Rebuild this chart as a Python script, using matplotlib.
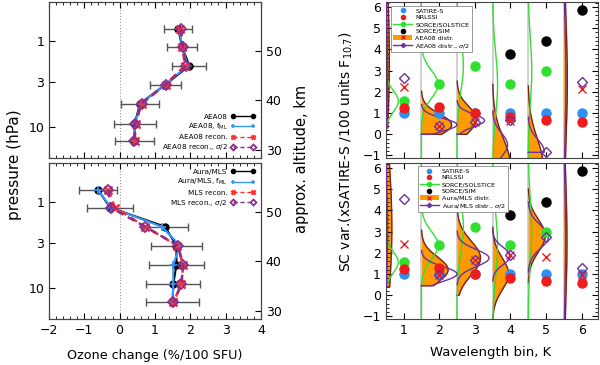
import numpy as np
import matplotlib
matplotlib.use('Agg')
import matplotlib.pyplot as plt
from matplotlib.ticker import MultipleLocator, NullLocator, FixedLocator
from matplotlib.lines import Line2D
from matplotlib.patches import Patch

plt.rcParams['font.family'] = 'DejaVu Sans'

# ---- left panels: ozone response profiles ----
pres = [0.73, 1.17, 1.94, 3.2, 5.3, 9.0, 14.5]  # hPa

aea08 = [1.66, 1.77, 1.97, 1.30, 0.58, 0.43, 0.42]
aea08_err = [0.40, 0.42, 0.48, 0.45, 0.53, 0.59, 0.54]
aea08_fml = [1.68, 1.78, 1.92, 1.30, 0.60, 0.44, 0.42]
aea08_rec = [1.72, 1.78, 1.85, 1.30, 0.62, 0.45, 0.43]
aea08_rec2 = [1.74, 1.79, 1.88, 1.31, 0.62, 0.44, 0.42]

mls = [-0.61, -0.27, 1.28, 1.61, 1.61, 1.52, 1.50]
mls_err = [0.54, 0.65, 0.66, 0.72, 0.77, 0.77, 0.76]
mls_fml = [-0.61, -0.25, 1.19, 1.71, 1.52, 1.52, 1.50]
mls_rec = [-0.32, -0.13, 0.72, 1.63, 1.80, 1.75, 1.52]
mls_rec2 = [-0.32, -0.25, 0.72, 1.65, 1.80, 1.75, 1.52]

# ---- right panels: solar cycle variability per wavelength bin ----
K = [1, 2, 3, 4, 5, 6]
satire = [1.0, 1.0, 1.0, 1.0, 1.0, 1.0]
nrlssi = [1.25, 1.27, 1.0, 0.82, 0.68, 0.58]
solstice = [1.55, 2.35, 3.22, 2.36, 2.98, np.nan]
sim = [np.nan, np.nan, np.nan, 3.77, 4.40, 5.85]

aea_x = [2.22, 0.40, 0.60, 0.63, -1.6, 2.15]
aea_d = [2.67, 0.40, 0.60, 0.65, -0.82, 2.45]
mls_x = [2.39, 0.97, 1.66, 1.91, 1.81, 0.94]
mls_d = [4.55, 0.97, 1.66, 1.91, 2.73, 1.28]

# distributions (mean, sigma, peak width, lower cut)
aea_mu = [3.5, 0.45, 0.70, -1.5, -1.5, 2.5]
aea_sig = [3.0, 0.50, 0.60, 1.30, 1.30, 3.0]
aea_amp = [0.10, 0.85, 0.55, 0.50, 0.42, 0.10]
aea_lo = [0.3, 0.0, 0.0, -9, -9, -9]
aea2_mu = [3.0, 0.45, 0.65, -0.5, -0.8, 2.5]
aea2_sig = [2.0, 0.30, 0.30, 0.55, 0.55, 2.5]
aea2_amp = [0.05, 1.00, 0.77, 0.42, 0.45, 0.06]
aea2_lo = [0.3, 0.0, 0.0, -9, -0.85, -9]

mlsd_mu = [3.2, 1.20, 1.75, 1.00, 2.80, 2.5]
mlsd_sig = [3.0, 0.60, 0.80, 0.75, 0.75, 3.0]
mlsd_amp = [0.17, 0.75, 0.66, 0.45, 0.48, 0.09]
mlsd_lo = [0.4, 0.45, 0.0, -9, 0.0, -9]
mlsd2_mu = [3.0, 1.00, 1.75, 1.85, 2.75, 2.5]
mlsd2_sig = [2.0, 0.35, 0.40, 0.40, 0.55, 2.5]
mlsd2_amp = [0.05, 1.00, 0.90, 0.50, 0.57, 0.05]
mlsd2_lo = [0.4, 0.45, 0.0, -9, 0.0, -9]

sol_amp = [0.35, 0.47, 0.18, 0.14, 0.10, 0.0]
sol_sig = [0.50, 0.65, 1.20, 1.50, 1.50, 1.0]

c_blue = '#2e90f0'
c_lblue = '#3399ff'
c_red = '#ee1c1c'
c_green = '#2fe02f'
c_orange = '#ff9a00'
c_brown = '#7a1f1f'
c_purple = '#7030a0'
c_dash_red = '#ff3030'
c_dash_pur = '#8b2f8b'

fig = plt.figure(figsize=(6, 3.65), dpi=100)

p_lo, p_hi = 0.36, 22.5


def alt(p):
    return 50 - 17.4 * np.log10(np.asarray(p) / 1.3)


def profile_panel(rect, obs, err, fml, rec, rec2, names, leg_loc, xlabels):
    ax = fig.add_axes(rect)
    ax.set_yscale('log')
    ax.set_xlim(-2, 4)
    ax.set_ylim(p_hi, p_lo)
    ax.axvline(0, color='#999999', ls=':', lw=0.8, zorder=0)
    ax.errorbar(obs, pres, xerr=err, fmt='none', ecolor='#555555',
                elinewidth=1, capsize=3, capthick=1, zorder=1)
    ax.plot(obs, pres, '-o', color='black', lw=1.5, ms=5, zorder=2, label=names[0])
    ax.plot(fml, pres, '-+', color=c_lblue, lw=1.5, ms=6, mew=1.2, zorder=3, label=names[1])
    ax.plot(rec, pres, '--x', color=c_dash_red, lw=1.8, ms=6, mew=1.8, zorder=4,
            dashes=(3, 2), label=names[2])
    ax.plot(rec2, pres, '--D', color=c_dash_pur, lw=1.8, ms=5, mew=1.3, mfc='none',
            zorder=5, dashes=(3, 2), label=names[3])
    ax.yaxis.set_major_locator(FixedLocator([1, 3, 10]))
    ax.yaxis.set_minor_locator(NullLocator())
    ax.set_yticklabels(['1', '3', '10'])
    ax.xaxis.set_major_locator(MultipleLocator(1))
    ax.xaxis.set_minor_locator(MultipleLocator(0.2))
    ax.tick_params(which='both', direction='in', top=True, labelsize=9)
    ax.tick_params(which='major', length=4)
    ax.tick_params(which='minor', length=2)
    if not xlabels:
        ax.set_xticklabels([])
    leg = ax.legend(loc=leg_loc, frameon=False, fontsize=5.2, markerfirst=False,
                    numpoints=2, handlelength=3.4, labelspacing=0.3, markerscale=0.6,
                    borderaxespad=0.4, handletextpad=0.4)
    for ln in leg.get_lines():
        ln.set_linewidth(1.0)
    ax2 = ax.twinx()
    ax2.set_ylim(alt(p_hi), alt(p_lo))
    ax2.yaxis.set_major_locator(FixedLocator([30, 40, 50]))
    ax2.tick_params(direction='in', length=4, labelsize=9)
    for a in (ax, ax2):
        for s in a.spines.values():
            s.set_color('#444444')
    return ax


profile_panel([0.0817, 0.567, 0.353, 0.427], aea08, aea08_err, aea08_fml,
              aea08_rec, aea08_rec2,
              ['AEA08', 'AEA08, f$_{\\rm ML}$', 'AEA08 recon.', 'AEA08 recon., $\\sigma$/2'],
              'lower right', False)
profile_panel([0.0817, 0.126, 0.353, 0.427], mls, mls_err, mls_fml,
              mls_rec, mls_rec2,
              ['Aura/MLS', 'Aura/MLS, f$_{\\rm ML}$', 'MLS recon.', 'MLS recon., $\\sigma$/2'],
              'upper right', True)


def dist_curve(base, mu, sig, amp, lo, thr=0.006):
    y = np.linspace(max(lo, -1.3), 6.4, 400)
    w = amp * np.exp(-0.5 * ((y - mu) / sig) ** 2)
    keep = w > thr
    y, w = y[keep], w[keep]
    x = base + w
    if lo > -1.3 and len(y) and y[0] <= lo + 0.05:
        x = np.concatenate([[base], x])
        y = np.concatenate([[lo], y])
    return x, y


def svar_panel(rect, mu, sig, amp, lo, mu2, sig2, amp2, lo2, xs, ds, name, leg_anchor, xlabels):
    ax = fig.add_axes(rect)
    ax.set_xlim(0.5, 6.45)
    ax.set_ylim(-1.12, 6.22)
    for k in K[:-1]:
        ax.axvline(k + 0.5, color='#c8c8c8', lw=1.2, zorder=0)
    for i, k in enumerate(K):
        base = k - 0.5
        x, y = dist_curve(base, mu[i], sig[i], amp[i], lo[i])
        ax.fill_betweenx(y, base, x, color=c_orange, lw=0, zorder=1)
        ax.plot(x, y, color=c_brown, lw=1.0, zorder=2)
        x2, y2 = dist_curve(base, mu2[i], sig2[i], amp2[i], lo2[i])
        ax.plot(x2, y2, color=c_purple, lw=1.0, zorder=3)
        if sol_amp[i] > 0:
            x3, y3 = dist_curve(base, solstice[i], sol_sig[i], sol_amp[i], -9, thr=-1)
            ax.plot(x3, y3, color=c_green, lw=1.0, zorder=2.5)
    ax.plot(K, satire, 'o', color=c_blue, ms=6.5, zorder=5)
    ax.plot(K, nrlssi, 'o', color=c_red, ms=6.5, zorder=6)
    ax.plot(K, solstice, 'o', color=c_green, ms=6.5, zorder=5)
    ax.plot(K, sim, 'o', color='black', ms=6.5, zorder=5)
    ax.plot(K, xs, 'x', color=c_red, ms=6, mew=1.0, zorder=7)
    ax.plot(K, ds, 'D', color=c_purple, ms=5, mew=1.0, mfc='none', zorder=7)
    ax.xaxis.set_major_locator(FixedLocator(K))
    ax.yaxis.set_major_locator(MultipleLocator(1))
    ax.yaxis.set_minor_locator(MultipleLocator(0.2))
    ax.tick_params(which='both', direction='in', top=True, right=True, labelsize=9)
    ax.tick_params(which='major', length=4)
    ax.tick_params(which='minor', length=2)
    if not xlabels:
        ax.set_xticklabels([])
    for s in ax.spines.values():
        s.set_color('#444444')
    handles = [
        Line2D([], [], ls='none', marker='o', color=c_blue, ms=3),
        Line2D([], [], ls='none', marker='o', color=c_red, ms=3),
        Line2D([], [], color=c_green, marker='o', ms=3, lw=1),
        Line2D([], [], ls='none', marker='o', color='black', ms=3),
        (Patch(color=c_orange, lw=0), Line2D([], [], ls='none', marker='x', color=c_red, ms=3.5)),
        Line2D([], [], color=c_purple, marker='D', ms=2.2, lw=1),
    ]
    labels = ['SATIRE-S', 'NRLSSI', 'SORCE/SOLSTICE', 'SORCE/SIM',
              name + ' distr.', name + ' distr., $\\sigma$/2']
    leg = ax.legend(handles, labels, loc='upper left', bbox_to_anchor=leg_anchor,
                    fontsize=4.6, numpoints=1, handlelength=3.0, labelspacing=0.2,
                    borderpad=0.3, handletextpad=0.5, fancybox=False,
                    framealpha=1, edgecolor='#888888')
    leg.get_frame().set_linewidth(0.6)
    return ax


svar_panel([0.643, 0.567, 0.353, 0.427], aea_mu, aea_sig, aea_amp, aea_lo,
           aea2_mu, aea2_sig, aea2_amp, aea2_lo, aea_x, aea_d, 'AEA08',
           (0.01, 0.995), False)
svar_panel([0.643, 0.126, 0.353, 0.427], mlsd_mu, mlsd_sig, mlsd_amp, mlsd_lo,
           mlsd2_mu, mlsd2_sig, mlsd2_amp, mlsd2_lo, mls_x, mls_d, 'Aura/MLS',
           (0.135, 1.0), True)

fig.text(0.024, 0.55, 'pressure (hPa)', rotation=90, ha='center', va='center', fontsize=11)
fig.text(0.503, 0.565, 'approx. altitude, km', rotation=90, ha='center', va='center',
         fontsize=10.5)
fig.text(0.258, 0.027, 'Ozone change (%/100 SFU)', ha='center', va='center', fontsize=9.2)
fig.text(0.578, 0.585, 'SC var.(xSATIRE-S /100 units F$_{10.7}$)', rotation=90,
         ha='center', va='center', fontsize=10)
fig.text(0.817, 0.035, 'Wavelength bin, K', ha='center', va='center', fontsize=9.5)

fig.savefig('out.png', dpi=100)
